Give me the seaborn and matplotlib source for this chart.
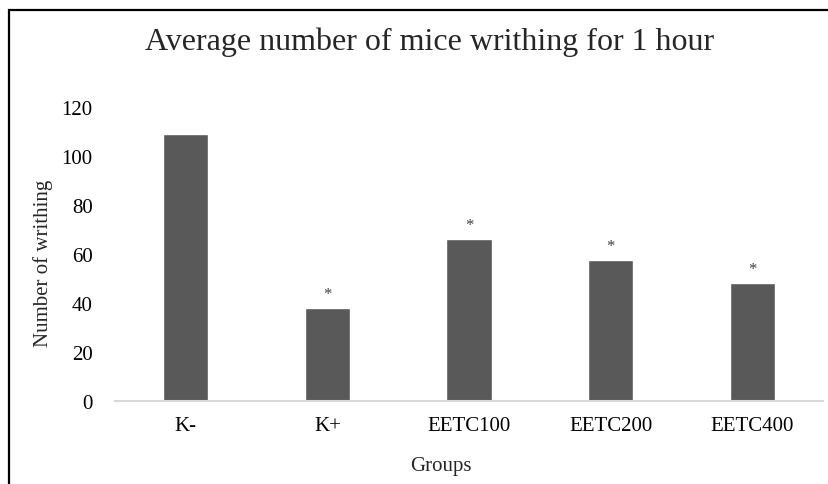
import matplotlib
matplotlib.use("Agg")
import matplotlib.pyplot as plt
import seaborn as sns
import pandas as pd
from matplotlib.patches import Rectangle

# данные
groups = ["K-", "K+", "EETC100", "EETC200", "EETC400"]
writhing = [109, 38, 66, 57.5, 48]
marks = ["", "*", "*", "*", "*"]

df = pd.DataFrame({"group": groups, "writhing": writhing})

sns.set_style("white")
plt.rcParams["font.family"] = ["Liberation Serif", "DejaVu Serif"]

fig = plt.figure(figsize=(8.29, 4.85), dpi=100)
ax = fig.add_axes([115 / 829, 1 - 402 / 485, 708 / 829, 294 / 485])

sns.barplot(data=df, x="group", y="writhing", color="#595959", saturation=1,
            width=0.32, ax=ax)

# звёздочки над столбцами
for i, (v, m) in enumerate(zip(writhing, marks)):
    if m:
        ax.text(i, v + 2.5, m, ha="center", va="bottom", fontsize=12, color="#404040")

ax.set_ylim(0, 120)
ax.set_yticks(range(0, 121, 20))
ax.tick_params(axis="both", labelsize=15, length=0, colors="#000000")
ax.tick_params(axis="x", pad=11)
ax.tick_params(axis="y", pad=16)
for s in ["top", "right", "left"]:
    ax.spines[s].set_visible(False)
ax.spines["bottom"].set_color("#d9d9d9")
ax.spines["bottom"].set_linewidth(1.5)
ax.set_xlabel("")
ax.set_ylabel("")

fig.text(441 / 829, 1 - 467 / 485, "Groups", ha="center", va="center", fontsize=15)
fig.text(43 / 829, 1 - 263 / 485, "Number of writhing", ha="center", va="center",
         rotation=90, fontsize=15)
fig.text(430 / 829, 1 - 42 / 485, "Average number of mice writhing for 1 hour",
         ha="center", va="center", fontsize=23)

# рамка вокруг графика
fig.add_artist(Rectangle((9 / 829, -0.2), 1.2, 1.2 - 11 / 485, transform=fig.transFigure,
                         fill=False, edgecolor="black", linewidth=1.6))

fig.savefig("out.png", dpi=100)
